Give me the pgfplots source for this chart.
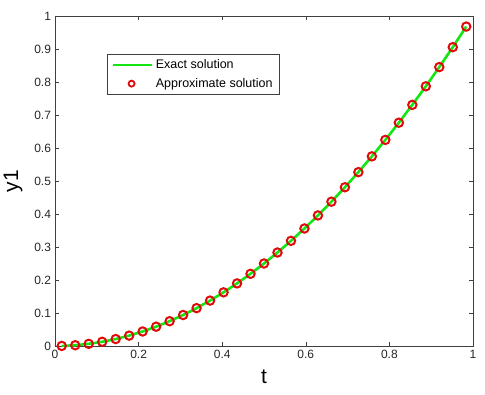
\documentclass[border=0pt]{standalone}
\usepackage{pgfplots}
\pgfplotsset{compat=1.18}
\usepackage{fontspec}
\setmainfont{Liberation Sans}
\definecolor{mygreen}{RGB}{20,230,20}
\definecolor{myred}{RGB}{225,10,10}
\begin{document}
\begin{tikzpicture}[x=1pt,y=1pt]
\begin{axis}[
  at={(0,0)}, anchor=south west,
  scale only axis, width=418pt, height=330pt,
  xmin=0, xmax=1, ymin=0, ymax=1,
  xtick={0,0.2,...,1}, ytick={0,0.1,...,1},
  xticklabels={0,0.2,0.4,0.6,0.8,1},
  yticklabels={0,0.1,0.2,0.3,0.4,0.5,0.6,0.7,0.8,0.9,1},
  tick align=inside, major tick length=4pt,
  axis line style={draw=black!75, line width=0.6pt},
  every tick/.style={black!75, line width=0.6pt},
  tick label style={font=\fontsize{12}{14}\selectfont, text=black!85},
  xticklabel style={yshift=-1pt},
  yticklabel style={xshift=-0.5pt},
  xlabel={t}, ylabel={y1},
  label style={font=\fontsize{21}{23}\selectfont},
  xlabel style={yshift=-4pt},
  ylabel style={yshift=5pt},
  legend style={at={(52/418,1-38/330)}, anchor=north west,
    font=\fontsize{12.5}{14}\selectfont, draw=black!75, line width=0.6pt,
    inner xsep=4pt, inner ysep=3.5pt, row sep=4pt,
    nodes={inner xsep=3pt}},
  legend cell align=left,
  legend image code/.code={
    \draw[#1] (0pt,0pt) -- (39pt,0pt);
  },
]
\addplot[mygreen, line width=2.6pt] coordinates {
(0.016129,0.000260) (0.048387,0.002341) (0.080645,0.006504) (0.112903,0.012747)
(0.145161,0.021072) (0.177419,0.031477) (0.209677,0.043965) (0.241935,0.058533)
(0.274194,0.075182) (0.306452,0.093913) (0.338710,0.114724) (0.370968,0.137617)
(0.403226,0.162591) (0.435484,0.189646) (0.467742,0.218783) (0.500000,0.250000)
(0.532258,0.283299) (0.564516,0.318678) (0.596774,0.356139) (0.629032,0.395682)
(0.661290,0.437305) (0.693548,0.481009) (0.725806,0.526795) (0.758065,0.574662)
(0.790323,0.624610) (0.822581,0.676639) (0.854839,0.730749) (0.887097,0.786941)
(0.919355,0.845213) (0.951613,0.905567) (0.983871,0.968002)
};
\addlegendentry{Exact solution}
\addplot[only marks, mark=o, mark size=4.2pt, mark options={draw=myred, line width=2pt},
  legend image code/.code={\draw[mark=o, mark size=3pt, mark options={draw=myred, line width=1.8pt}] plot coordinates {(19pt,0pt)};}] coordinates {
(0.016129,0.000260) (0.048387,0.002341) (0.080645,0.006504) (0.112903,0.012747)
(0.145161,0.021072) (0.177419,0.031477) (0.209677,0.043965) (0.241935,0.058533)
(0.274194,0.075182) (0.306452,0.093913) (0.338710,0.114724) (0.370968,0.137617)
(0.403226,0.162591) (0.435484,0.189646) (0.467742,0.218783) (0.500000,0.250000)
(0.532258,0.283299) (0.564516,0.318678) (0.596774,0.356139) (0.629032,0.395682)
(0.661290,0.437305) (0.693548,0.481009) (0.725806,0.526795) (0.758065,0.574662)
(0.790323,0.624610) (0.822581,0.676639) (0.854839,0.730749) (0.887097,0.786941)
(0.919355,0.845213) (0.951613,0.905567) (0.983871,0.968002)
};
\addlegendentry{Approximate solution}
\end{axis}
\pgfresetboundingbox
\path[use as bounding box] (-55,-48) rectangle (430,346);
\end{tikzpicture}
\end{document}
